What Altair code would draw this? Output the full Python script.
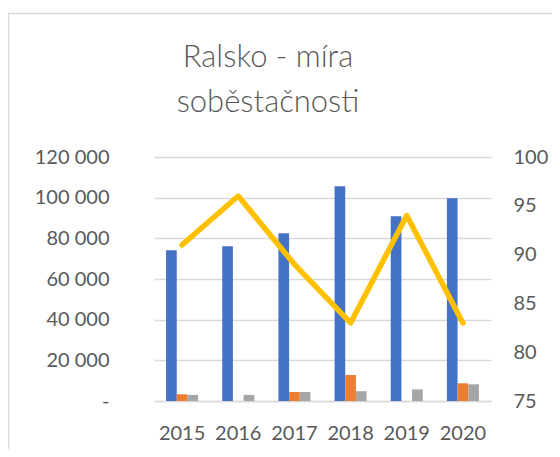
import altair as alt
import pandas as pd

years = ["2015", "2016", "2017", "2018", "2019", "2020"]
series_names = ["A", "B", "C"]
blue = [74100, 76100, 82500, 105600, 90800, 99700]
orange = [3300, 0, 4400, 12800, 0, 8700]
gray = [3000, 3000, 4400, 4800, 5700, 8200]
ratio = [91, 96, 89, 83, 94, 83]
title_text = "Ralsko - míra\nsoběstačnosti"

rows = []
for i, y in enumerate(years):
    for s, vals in zip(series_names, [blue, orange, gray]):
        rows.append({"year": y, "series": s, "value": vals[i]})
bars_df = pd.DataFrame(rows)
line_df = pd.DataFrame({"year": years, "ratio": ratio})
one_df = pd.DataFrame({"t": [title_text]})

FONT = "Lato"
TXT = "#595959"
GRID = "#d9d9d9"

xscale = alt.Scale(paddingInner=0.43, paddingOuter=0.215)

bars = alt.Chart(bars_df).mark_bar().encode(
    x=alt.X("year:N", scale=xscale, sort=years,
            axis=alt.Axis(title=None, labelAngle=0, ticks=False, domainColor=GRID,
                          domainWidth=1.5, labelPadding=22, labelFontSize=20,
                          labelColor=TXT, labelFont=FONT)),
    xOffset=alt.XOffset("series:N", sort=series_names, scale=alt.Scale(paddingInner=0, paddingOuter=0)),
    y=alt.Y("value:Q", scale=alt.Scale(domain=[0, 120000]),
            axis=alt.Axis(title=None, values=[0, 20000, 40000, 60000, 80000, 100000, 120000],
                          labelExpr="datum.value == 0 ? '-\u00a0\u00a0\u00a0' : replace(format(datum.value, ','), ',', ' ')",
                          ticks=False, domain=False, gridColor=GRID, gridWidth=1.5,
                          labelPadding=45, labelFontSize=20, labelColor=TXT, labelFont=FONT)),
    color=alt.Color("series:N", sort=series_names,
                    scale=alt.Scale(domain=series_names, range=["#4472C4", "#ED7D31", "#A5A5A5"]),
                    legend=None),
)

line = alt.Chart(line_df).mark_line(color="#FFC000", strokeWidth=5.5, strokeCap="round",
                                    strokeJoin="round").encode(
    x=alt.X("year:N", sort=years),
    y=alt.Y("ratio:Q", scale=alt.Scale(domain=[75, 100]),
            axis=alt.Axis(title=None, orient="right", values=[75, 80, 85, 90, 95, 100],
                          ticks=False, domain=False, grid=False, labelPadding=22,
                          labelFontSize=20, labelColor=TXT, labelFont=FONT)),
)

frame_left = alt.Chart(one_df).mark_rule(color=GRID, strokeWidth=1.5).encode(
    x=alt.value(-145.5), y=alt.value(-144), y2=alt.value(300))
frame_top = alt.Chart(one_df).mark_rule(color=GRID, strokeWidth=1.5).encode(
    x=alt.value(-146), x2=alt.value(400), y=alt.value(-143.5))

title = alt.Chart(one_df).mark_text(
    font=FONT, fontSize=31, fontWeight=300, color=TXT, align="center", baseline="alphabetic",
    lineBreak="\n", lineHeight=45).encode(
    text="t:N", x=alt.value(114), y=alt.value(-90))

chart = alt.layer(frame_left, frame_top, title, bars, line).resolve_scale(y="independent").properties(
    width=337, height=244,
    autosize=alt.AutoSizeParams(type="none"),
    padding={"left": 146, "top": 149, "right": 61, "bottom": 48},
).configure_view(stroke=None)

chart.save("out.html", embed_options={"renderer": "svg", "actions": False})
